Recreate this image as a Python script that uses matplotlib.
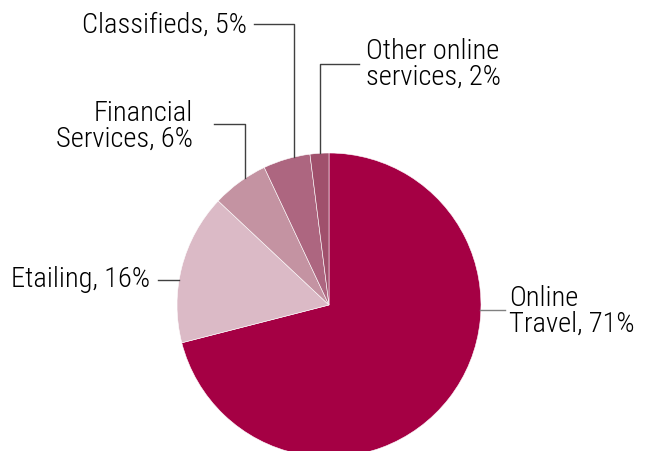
import numpy as np
import matplotlib
matplotlib.use('Agg')
import matplotlib.pyplot as plt

# data
labels = ['Online\nTravel, 71%', 'Etailing, 16%', 'Financial\nServices, 6%',
          'Classifieds, 5%', 'Other online\nservices, 2%']
shares = [71, 16, 6, 5, 2]
colors = ['#A50044', '#DBBAC6', '#C493A2', '#AD6680', '#A0506C']

plt.rcParams['font.family'] = ['Roboto Condensed', 'DejaVu Sans']

W, H = 653, 452
fig = plt.figure(figsize=(W / 100, H / 100), dpi=100)
ax = fig.add_axes([0, 0, 1, 1])

# pie in pixel-like coords (y flipped, so counterclock=True is clockwise on screen)
cx, cy, r = 329, 306, 152
wedges, _ = ax.pie(shares, colors=colors, startangle=-90, counterclock=True,
                   center=(cx, cy), radius=r, frame=True,
                   wedgeprops=dict(edgecolor='white', linewidth=0.4))
ax.set_xlim(0, W)
ax.set_ylim(H, 0)
ax.set_aspect('equal')
ax.axis('off')


def edge_y(x):
    return cy - np.sqrt(r ** 2 - (x - cx) ** 2)


lc = '#404040'
fs = 20.5
ls = 0.95
fw = 'light'

# Online Travel
ax.plot([cx + r - 1, 505], [311, 311], color='#808080', lw=1)
ax.text(509, 311, labels[0], fontsize=fs, ha='left', va='center', linespacing=ls, fontweight=fw)

# Etailing
ax.plot([158, 179], [281, 281], color=lc, lw=1)
ax.text(150, 280, labels[1], fontsize=fs, ha='right', va='center', linespacing=ls, fontweight=fw)

# Financial Services
ax.plot([214, 245, 245], [125, 125, edge_y(245)], color=lc, lw=1)
ax.text(193, 126, labels[2], fontsize=fs, ha='right', va='center', linespacing=ls, fontweight=fw)

# Classifieds
ax.plot([254, 294, 294], [25, 25, edge_y(294)], color=lc, lw=1)
ax.text(247, 25, labels[3], fontsize=fs, ha='right', va='center', linespacing=ls, fontweight=fw)

# Other online services
ax.plot([359, 320, 320], [65, 65, edge_y(320)], color=lc, lw=1)
ax.text(366, 64, labels[4], fontsize=fs, ha='left', va='center', linespacing=ls, fontweight=fw)

fig.savefig('out.png', dpi=100)
